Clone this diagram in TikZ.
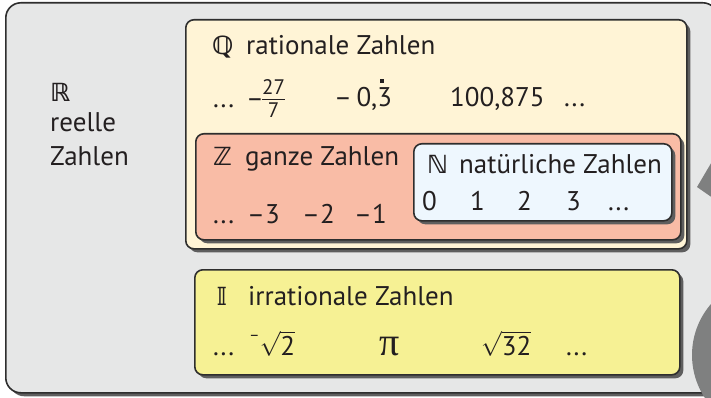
\documentclass[tikz,border=0pt]{standalone}
\usepackage{amsmath}
\usepackage{amssymb}
\usepackage{graphicx}
\usepackage{fontspec}
\setmainfont{PT Sans}
\newfontfamily\grk{Liberation Serif}
\newfontfamily\dvs{DejaVu Sans}
\usetikzlibrary{shadows}
\definecolor{txt}{HTML}{231F20}
\definecolor{edge}{HTML}{2E2E2E}
\definecolor{outerfill}{HTML}{E6E7E7}
\definecolor{qfill}{HTML}{FFF4D6}
\definecolor{zfill}{HTML}{F9BCA6}
\definecolor{nfill}{HTML}{EEF7FE}
\definecolor{ifill}{HTML}{F6F194}
\definecolor{shade}{HTML}{5E5E5E}
\definecolor{graysh}{HTML}{7F8080}
\newcommand{\bbsym}[1]{{\dvs\bfseries\fontsize{25}{25}\selectfont #1}}
\newcommand{\bbreg}[1]{{\dvs\fontsize{25}{25}\selectfont #1}}
\begin{document}
\begin{tikzpicture}[x=1pt,y=-1pt,
  font=\fontsize{27}{32}\selectfont,
  setbox/.style={draw=edge, line width=1.6pt, rounded corners=8pt, inner sep=0pt,
    anchor=north west,
    drop shadow={shadow xshift=3.5pt, shadow yshift=-3.5pt, fill=shade, opacity=1}},
  lbl/.style={anchor=base west, inner sep=0pt, text=txt},
  fraclbl/.style={anchor=base, inner sep=0pt, text=txt, font=\fontsize{21}{21}\selectfont}]
\useasboundingbox (0,0) rectangle (711,398);
\clip (0,0) rectangle (711,398);
% outer box: real numbers
\node[setbox, fill=outerfill, rounded corners=15pt, minimum width=712pt, minimum height=390pt] (R) at (5,2) {};
% rational numbers
\node[setbox, fill=qfill, minimum width=501pt, minimum height=229pt] (Q) at (185,19) {};
% integers
\node[setbox, fill=zfill, minimum width=485pt, minimum height=106pt] (Z) at (195,133) {};
% natural numbers
\node[setbox, fill=nfill, minimum width=258pt, minimum height=77pt] (N) at (413,143) {};
% irrational numbers
\node[setbox, fill=ifill, minimum width=485pt, minimum height=105pt] (I) at (194,269) {};

% labels R
\node[lbl] (tR) at (50,102) {\bbsym{ℝ}};
\node[lbl] (tReelle) at (50,132) {reelle};
\node[lbl] (tRZahlen) at (50,165) {Zahlen};
% Q
\node[lbl] (tQ) at (212,55) {\bbsym{ℚ}};
\node[lbl] (tQname) at (246,55) {rationale Zahlen};
\node[lbl] (q1) at (213,108) {...};
\node[lbl] (q2m) at (246,108) {–};
\node[fraclbl] (q2n) at (273.5,95) {27};
\node[fraclbl] (q2d) at (273.5,118) {7};
\draw[txt, line width=1.3pt] (262,99.5) -- (285,99.5);
\node[lbl] (q3) at (334,107) {–\,0,3};
\fill[txt] (380,79.5) rectangle (383.5,83);
\node[lbl] (q4) at (450,107) {100,875};
\node[lbl] (q5) at (564,107) {...};
% Z
\node[lbl] (tZ) at (213,165) {\bbsym{ℤ}};
\node[lbl] (tZname) at (245,165) {ganze Zahlen};
\node[lbl] (z1) at (213,223) {...};
\node[lbl] (z2) at (247,223) {–3};
\node[lbl] (z3) at (302,223) {–2};
\node[lbl] (z4) at (354,223) {–1};
% N
\node[lbl] (tN) at (427,173) {\bbsym{ℕ}};
\node[lbl] (tNname) at (459,173) {natürliche Zahlen};
\node[lbl] (n0) at (422,210) {0};
\node[lbl] (n1) at (470,210) {1};
\node[lbl] (n2) at (517,210) {2};
\node[lbl] (n3) at (566,210) {3};
\node[lbl] (n4) at (608,210) {...};
% I
\node[lbl] (tI) at (216,305) {\bbsym{𝕀}};
\node[lbl] (tIname) at (248,305) {irrationale Zahlen};
\node[lbl] (i1) at (213,355) {...};
\node[lbl] (i2) at (249,355) {\raisebox{0.55em}{\fontsize{16}{18}\selectfont –}$\sqrt{\text{2}}$};
\node[lbl] (i3) at (379,355) {\grk\fontsize{40}{40}\selectfont π};
\node[lbl] (i4) at (481,355) {$\sqrt{\text{32}}$};
\node[lbl] (i5) at (566,355) {...};

% cut-off gray shapes at the right edge
\fill[graysh] (697,187) -- (720,148) -- (720,203) -- cycle;
\fill[graysh] (770,355) circle (78);
\end{tikzpicture}
\end{document}
